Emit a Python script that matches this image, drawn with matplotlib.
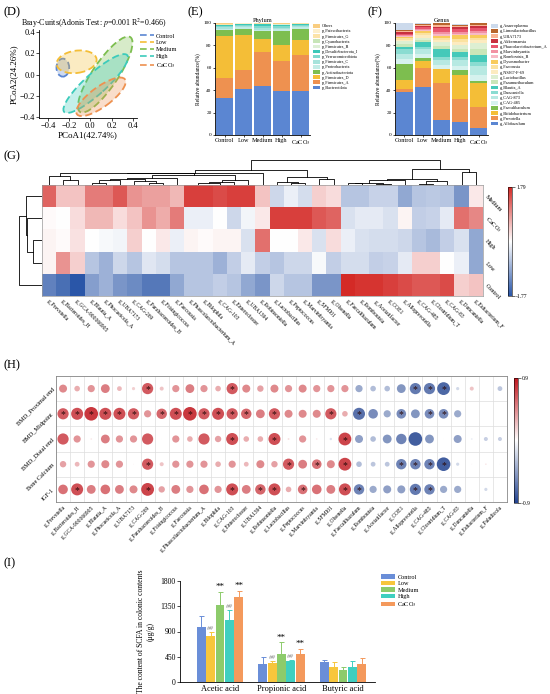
import numpy as np
import matplotlib
matplotlib.use("Agg")
import matplotlib.pyplot as plt
from matplotlib.patches import Ellipse, Patch
from matplotlib.lines import Line2D
from matplotlib.colors import LinearSegmentedColormap

plt.rcParams['font.family'] = ['Liberation Serif', 'DejaVu Serif']
plt.rcParams['mathtext.fontset'] = 'stix'
plt.rcParams['axes.linewidth'] = 0.6
plt.rcParams['xtick.major.width'] = 0.5
plt.rcParams['ytick.major.width'] = 0.5
plt.rcParams['xtick.major.size'] = 2
plt.rcParams['ytick.major.size'] = 2

# ---------------- data ----------------
groups = ['Control', 'Low', 'Medium', 'High', 'CaCO$_3$']

# (D) PCoA confidence ellipses per group
ell_cx = [-0.26, -0.13, 0.14, 0.05, 0.10]
ell_cy = [0.065, 0.12, 0.0, -0.085, -0.21]
ell_len = [0.12, 0.38, 0.85, 0.80, 0.56]
ell_wid = [0.17, 0.21, 0.24, 0.20, 0.19]
ell_ang = [0, 8, 56, 42, 36]

# (E) phylum relative abundance, bottom to top
phyla = ['p_Bacteroidota', 'p_Firmicutes_A', 'p_Firmicutes_D', 'p_Actinobacteriota',
         'p_Proteobacteria', 'p_Firmicutes_C', 'p_Verrucomicrobiota', 'p_Desulfobacterota_I',
         'p_Firmicutes_B', 'p_Cyanobacteria', 'p_Firmicutes_G', 'p_Patescibacteria', 'Others']
phylum_control = [33, 18, 37, 6, 1.0, 1.0, 1.5, 0.5, 0.3, 0.2, 0.2, 0.1, 1.2]
phylum_low = [41.5, 16.5, 31, 6, 1.0, 1.0, 1.5, 0.5, 0.2, 0.2, 0.1, 0.1, 0.4]
phylum_medium = [43.5, 30.5, 11.5, 7, 1.5, 1.5, 1.5, 2.0, 0.3, 0.2, 0.2, 0.1, 0.2]
phylum_high = [39.5, 26.5, 14, 13, 1.5, 1.0, 2.0, 1.0, 0.3, 0.2, 0.3, 0.2, 0.5]
phylum_caco3 = [39, 32.5, 13, 10.5, 1.0, 1.0, 1.5, 0.5, 0.3, 0.2, 0.1, 0.1, 0.3]

# (F) genus relative abundance, bottom to top
genera = ['g_Allobaculum', 'g_Prevotella', 'g_Bifidobacterium', 'g_Faecalibaculum',
          'g_CAG-485', 'g_CAG-873', 'g_Duncaniella', 'g_Blautia_A', 'g_Paramuribaculum',
          'g_Lactobacillus', 'g_NSJ67-F-69', 'g_Faecousia', 'g_Dysosmobacter', 'g_Romboutsia_B',
          'g_Marvinbryantia', 'g_Phascolarctobacterium_A', 'g_Akkermansia', 'g_UBA7173',
          'g_Limosilactobacillus', 'g_Anaeroplasma']
genus_control = [38.5, 3, 7.5, 14.5, 4, 5, 4, 2, 3, 2, 1.5, 1.5, 1, 1, 0.5, 1.5, 1.5, 1, 1, 6]
genus_low = [43, 17, 6.5, 2, 4, 4.5, 2, 4, 2, 2, 2, 2, 1.5, 1, 1, 1.5, 1.5, 1, 1, 0.5]
genus_medium = [13.5, 33, 12, 0.3, 4, 4, 3, 7, 3, 3, 2, 2, 2, 1.5, 2, 3, 1.5, 1.5, 1.5, 0.2]
genus_high = [12, 20, 22, 4, 4, 5, 3, 4, 3, 3, 3, 3, 3, 1.5, 1.5, 3, 1.5, 1, 1, 1]
genus_caco3 = [6, 19, 21, 2, 6, 8, 3, 6, 6, 5, 3, 2, 2, 2, 2, 2.5, 1.5, 1.5, 1.5, 0.5]

# (G) z-score heatmap
heat_genera = ['g_Prevotella', 'g_Bacteroides_H', 'g_GCA-900066905', 'g_Blautia_A',
               'g_Phocaeicola_A', 'g_UBA7173', 'g_CAG-269', 'g_Parabacteroides_B',
               'g_Frisingicoccus', 'g_Faecousia', 'g_Phascolarctobacterium_A', 'g_Bilophila',
               'g_CAG-103', 'g_Enterocloster', 'g_UBA1394', 'g_Robinsoniella', 'g_Lactobacillus',
               'g_Peptococcus', 'g_Marvinbryantia', 'g_SFMI01', 'g_Olsenella', 'g_Faecalibaculum',
               'g_Romboutsia', 'g_Acetatifactor', 'g_COE1', 'g_Alloprevotella', 'g_CAG-485',
               'g_Clostridium_T', 'g_CAG-83', 'g_Duncaniella', 'g_Eubacterium_F']
heat_rows = ['Medium', 'CaCO$_3$', 'High', 'Low', 'Control']
heat_medium = [1.3, 0.5, 0.5, 1.1, 1.1, 1.4, 0.9, 0.8, 0.8, 0.6, 1.6, 1.6, 1.5, 1.6, 1.6, 0.5,
               -0.4, -0.15, -0.35, 0.4, 0.3, -0.6, -0.6, -0.45, -0.45, -0.9, -0.6, -0.55, -0.6, -1.1, 0.2]
heat_caco3 = [0.05, 0.0, 0.3, 0.6, 0.6, 0.3, 0.5, 0.9, 0.7, 1.1, -0.15, -0.15, 0.0, -0.4, -0.1, 0.2,
              1.6, 1.6, 1.6, 1.4, 1.3, -0.3, -0.2, -0.2, -0.3, 0.1, -0.5, -0.45, -0.2, 1.2, 1.0]
heat_high = [0.1, 0.05, 0.25, 0.0, -0.05, -0.1, 0.4, 0.0, 0.2, -0.15, 0.1, 0.05, 0.1, 0.1, -0.3, 1.2,
             0.0, 0.0, 0.2, -0.3, 0.3, -0.15, -0.3, -0.35, -0.35, -0.4, -0.6, -0.7, -0.5, -0.3, -0.9]
heat_low = [0.1, 0.9, 0.4, -0.6, -0.8, -0.4, -0.6, -0.25, -0.35, -0.6, -0.6, -0.6, -0.8, -0.5, -0.2, -0.5,
            -0.6, -0.4, -0.4, -0.05, -0.5, -0.35, -0.35, -0.5, -0.45, -0.2, 0.4, 0.4, 0.0, -0.15, -0.9]
heat_control = [-1.3, -1.5, -1.77, -1.0, -0.8, -1.1, -1.2, -1.4, -1.4, -0.9, -0.6, -0.6, -0.5, -0.6, -0.9, -1.1,
                -0.4, -0.6, -0.6, -1.1, -1.1, 1.79, 1.7, 1.7, 1.6, 1.5, 1.4, 1.4, 1.5, 0.4, 0.5]

# (H) correlation with bone indices
corr_genera = heat_genera + ['g_Paludicola']
corr_rows = ['BMD_Proximal end', 'BMD_Midpoint', 'BMD_Distal end', 'Bone Calcium', 'IGF-1']
r_prox = [0.5, 0.35, 0.45, 0.55, 0.3, 0.2, 0.7, 0.25, 0.45, 0.55, 0.45, 0.35, 0.7, 0.5, 0.4, 0.5,
          0.45, 0.5, 0.45, 0.45, 0.45, -0.45, -0.35, -0.35, -0.55, -0.7, -0.7, -0.8, -0.2, 0.25, 0.0, -0.3]
r_mid = [0.7, 0.75, 0.85, 0.75, 0.75, 0.7, 0.45, 0.65, 0.75, 0.85, 0.7, 0.75, 0.7, 0.65, 0.55, 0.7,
         0.5, 0.5, 0.5, 0.7, 0.35, -0.75, -0.6, -0.45, -0.6, -0.55, -0.6, -0.6, -0.45, 0.0, 0.0, 0.0]
r_dist = [0.7, 0.45, 0.1, 0.55, 0.45, 0.45, 0.7, 0.02, 0.45, 0.35, 0.7, 0.4, 0.75, 0.35, 0.35, 0.75,
          0.12, 0.45, 0.1, -0.15, 0.8, -0.5, -0.35, -0.55, -0.65, -0.85, -0.55, -0.02, -0.5, -0.1, -0.25, -0.25]
r_bone = [0.4, 0.3, 0.45, 0.5, 0.45, 0.05, 0.7, 0.25, 0.45, 0.45, 0.45, 0.35, 0.45, 0.3, 0.5, 0.4,
          0.7, 0.55, 0.6, 0.5, 0.8, -0.35, -0.3, -0.3, -0.65, -0.65, -0.65, -0.85, -0.2, 0.05, 0.1, 0.05]
r_igf = [0.6, 0.75, 0.55, 0.6, 0.55, 0.5, 0.8, 0.4, 0.55, 0.45, 0.6, 0.45, 0.75, 0.55, 0.65, 0.75,
         0.35, 0.6, 0.6, 0.55, 0.75, -0.65, -0.45, -0.5, -0.5, -0.7, -0.65, -0.45, -0.45, 0.02, -0.2, 0.0]
# significant cells (1-based column numbers)
sig_prox = [7, 13, 26, 27, 28]
sig_mid = [1, 2, 3, 4, 5, 6, 8, 9, 10, 11, 12, 13, 14, 16, 20, 22, 25, 27, 28]
sig_dist = [13, 16, 21]
sig_bone = [7, 17, 19, 21, 25, 26, 27, 28]
sig_igf = [2, 7, 13, 15, 16, 18, 21, 22, 26, 27]

# (I) SCFA content (ug/g), mean and SD per group
acids = ['Acetic acid', 'Propionic acid', 'Butyric acid']
scfa_mean = {'Control': [975, 320, 365], 'Low': [825, 345, 265], 'Medium': [1370, 500, 215],
             'High': [1105, 370, 275], 'CaCO$_3$': [1520, 495, 315]}
scfa_sd = {'Control': [200, 125, 30], 'Low': [65, 35, 95], 'Medium': [230, 205, 55],
           'High': [175, 30, 95], 'CaCO$_3$': [105, 90, 120]}
scfa_marks = {'Control': ['', '', ''], 'Low': ['##', '##', ''], 'Medium': ['**', '**', ''],
              'High': ['##', '##', ''], 'CaCO$_3$': ['**', '**', '']}

# ---------------- styles ----------------
W, H = 550, 694
fig = plt.figure(figsize=(5.5, 6.94), dpi=100)


def box(l, t, r, b):
    return fig.add_axes([l / W, 1 - b / H, (r - l) / W, (b - t) / H])


def panel_label(x, y, s):
    fig.text(x / W, 1 - y / H, s, fontsize=9, va='center', ha='left')


def ordered_tree(data):
    # average-linkage clustering where only neighbours may merge, so leaf order is kept
    data = np.asarray(data, float)
    members = [[i] for i in range(len(data))]
    xpos = [float(i) for i in range(len(data))]
    hts = [0.0] * len(data)
    segs = []
    while len(members) > 1:
        dists = []
        for k in range(len(members) - 1):
            a = data[members[k]]
            b = data[members[k + 1]]
            dists.append(np.sqrt(((a[:, None, :] - b[None, :, :]) ** 2).sum(-1)).mean())
        k = int(np.argmin(dists))
        h = max(dists[k], hts[k], hts[k + 1])
        segs.append(([xpos[k], xpos[k], xpos[k + 1], xpos[k + 1]], [hts[k], h, h, hts[k + 1]]))
        members[k] = members[k] + members.pop(k + 1)
        xpos[k] = (xpos[k] + xpos.pop(k + 1)) / 2
        hts[k] = h
        hts.pop(k + 1)
    return segs, hts[0]


grp_colors = ['#5B86D2', '#F4BE37', '#7DBE4F', '#3CCBBB', '#EE9150']

# ---------------- (D) ----------------
panel_label(3, 12, '(D)')
ax = box(39, 30, 137, 118)
for i, g in enumerate(groups):
    ax.add_patch(Ellipse((ell_cx[i], ell_cy[i]), ell_len[i], ell_wid[i], angle=ell_ang[i],
                         facecolor=grp_colors[i], alpha=0.3, edgecolor='none'))
    ax.add_patch(Ellipse((ell_cx[i], ell_cy[i]), ell_len[i], ell_wid[i], angle=ell_ang[i],
                         facecolor='none', edgecolor=grp_colors[i], lw=1.3, ls=(0, (4, 2))))
ax.set_xlim(-0.485, 0.44)
ax.set_ylim(-0.41, 0.42)
ax.set_xticks([-0.4, -0.2, 0.0, 0.2, 0.4])
ax.set_yticks([-0.4, -0.2, 0.0, 0.2, 0.4])
ax.tick_params(labelsize=6, pad=1)
for s in ['top', 'right']:
    ax.spines[s].set_visible(False)
ax.set_xlabel('PCoA1(42.74%)', fontsize=6.5, labelpad=1)
ax.set_ylabel('PCoA2(24.26%)', fontsize=6.5, labelpad=1)
fig.text(94 / W, 1 - 23 / H, 'Bray-Curits(Adonis Test: $p$=0.001 R$^2$=0.466)', fontsize=5.7,
         ha='center', va='center')
handles = [Line2D([], [], color=c, lw=1.2, ls=(0, (4, 2))) for c in grp_colors]
ax.legend(handles, groups, loc='upper left', bbox_to_anchor=(137 / W, 1 - 30 / H),
          bbox_transform=fig.transFigure, frameon=False, fontsize=4.5, handlelength=2.2,
          labelspacing=0.25, borderpad=0, handletextpad=0.3)


# ---------------- (E) and (F) stacked bars ----------------
def stacked(ax, table, names, colors, title, leg_top):
    x = np.arange(len(groups))
    bottom = np.zeros(len(groups))
    vals = np.array(table, float)
    bars = []
    for j, name in enumerate(names):
        b = ax.bar(x, vals[:, j], bottom=bottom, width=0.9, color=colors[j], edgecolor='none')
        bottom += vals[:, j]
        bars.append(b)
    ax.set_xlim(-0.5, 4.5)
    ax.set_ylim(0, 100)
    ax.set_yticks([0, 20, 40, 60, 80, 100])
    ax.set_xticks(x)
    ax.set_xticklabels(groups, fontsize=4.5)
    ax.tick_params(axis='y', labelsize=3.8, pad=1, length=1.5)
    ax.tick_params(axis='x', pad=1, length=1.5)
    for s in ['top', 'right']:
        ax.spines[s].set_visible(False)
    ax.set_ylabel('Relative abundance(%)', fontsize=4, labelpad=2)
    ax.set_title(title, fontsize=4.5, pad=1)
    handles = [Patch(facecolor=colors[j]) for j in range(len(names))][::-1]
    ax.legend(handles, names[::-1], loc='upper left', bbox_to_anchor=(1.01, leg_top),
              frameon=False, fontsize=3.1, handlelength=1.6, handleheight=0.9,
              labelspacing=0.2, borderpad=0, handletextpad=0.5)


phylum_colors = ['#5B86D2', '#EE9150', '#F4BE37', '#7DBE4F', '#C2ECE6', '#A6E3DB', '#7FD9CE',
                 '#3CC8B8', '#DDEFD5', '#C7E5B7', '#FCE3A8', '#FDEFCB', '#F9CD80']
genus_colors = ['#5B86D2', '#EE9150', '#F4BE37', '#7DBE4F', '#D6F2EE', '#B7E9E2', '#8ADCD1',
                '#45C9B9', '#C9E6B8', '#DDEFD2', '#FCEBC0', '#FBE2A0', '#F8CB5C', '#F7BAC6',
                '#F291A3', '#E8566E', '#C8303F', '#F9B494', '#B8652D', '#CCDAEC']

panel_label(188, 12, '(E)')
ax = box(215, 23, 310, 135)
stacked(ax, [phylum_control, phylum_low, phylum_medium, phylum_high, phylum_caco3],
        phyla, phylum_colors, 'Phylum', 1.01)

panel_label(368, 12, '(F)')
ax = box(395, 23, 488, 135)
stacked(ax, [genus_control, genus_low, genus_medium, genus_high, genus_caco3],
        genera, genus_colors, 'Genus', 1.01)

# ---------------- (G) heatmap ----------------
panel_label(3, 156, '(G)')
heat = np.array([heat_medium, heat_caco3, heat_high, heat_low, heat_control])
cmap_g = LinearSegmentedColormap.from_list('g', ['#2A56A8', '#FFFFFF', '#D42A26'])
ax = box(42, 185, 483, 296)
im = ax.imshow(heat, aspect='auto', cmap=cmap_g, vmin=-1.77, vmax=1.79, interpolation='nearest')
ax.set_xticks(np.arange(len(heat_genera)))
ax.set_xticklabels(heat_genera, rotation=-45, ha='left', va='top', rotation_mode='anchor', fontsize=4)
ax.set_yticks(np.arange(len(heat_rows)))
ax.yaxis.tick_right()
ax.set_yticklabels(heat_rows, rotation=-45, ha='left', va='center', rotation_mode='anchor', fontsize=4.5)
ax.tick_params(length=0, pad=2)
for s in ax.spines.values():
    s.set_color('#999999')
    s.set_linewidth(0.5)

axt = box(42, 160, 483, 185)
segs, top = ordered_tree(heat.T)
for xs, ys in segs:
    axt.plot(xs, ys, color='black', lw=0.6)
axt.set_xlim(-0.5, len(heat_genera) - 0.5)
axt.set_ylim(0, top * 1.02)
axt.axis('off')

axl = box(18, 185, 42, 296)
segs, top = ordered_tree(heat)
for ys, xs in segs:
    axl.plot(xs, ys, color='black', lw=0.6)
axl.set_ylim(len(heat_rows) - 0.5, -0.5)
axl.set_xlim(top * 1.03, 0)
axl.axis('off')

cax = box(508, 187, 512, 296)
cb = fig.colorbar(im, cax=cax, ticks=[-1.77, 1.79])
cb.ax.set_yticklabels(['-1.77', '1.79'], fontsize=4)
cb.ax.tick_params(length=2, width=0.4, pad=1)
cb.outline.set_linewidth(0.4)

# ---------------- (H) correlation dot plot ----------------
panel_label(3, 365, '(H)')
corr = np.array([r_prox, r_mid, r_dist, r_bone, r_igf])
sigs = [sig_prox, sig_mid, sig_dist, sig_bone, sig_igf]
cmap_h = LinearSegmentedColormap.from_list('h', ['#21428F', '#FFFFFF', '#C0151D'])
ax = box(56, 376, 507, 502)
ys, xs = np.nonzero(np.abs(corr) > 0.01)
vals = corr[ys, xs]
sizes = (16 * np.abs(vals) * 0.72) ** 2
sc = ax.scatter(xs, ys, s=sizes, c=vals, cmap=cmap_h, vmin=-0.9, vmax=0.9, alpha=0.9,
                edgecolors='none', zorder=3)
for i, cols in enumerate(sigs):
    for c in cols:
        ax.text(c - 1, i + 0.05, '*', fontsize=7, color='#2B0A0A', ha='center', va='center', zorder=4)
ax.set_xlim(-0.5, len(corr_genera) - 0.5)
ax.set_ylim(len(corr_rows) - 0.5, -0.5)
ax.set_xticks(np.arange(len(corr_genera)))
ax.set_xticklabels(corr_genera, rotation=45, ha='right', va='top', rotation_mode='anchor', fontsize=4)
ax.set_yticks(np.arange(len(corr_rows)))
ax.set_yticklabels(corr_rows, rotation=45, ha='right', va='center', rotation_mode='anchor', fontsize=4.5)
ax.set_xticks(np.arange(len(corr_genera) + 1) - 0.5, minor=True)
ax.set_yticks(np.arange(len(corr_rows) + 1) - 0.5, minor=True)
ax.grid(which='minor', color='#DDDDDD', lw=0.5)
ax.tick_params(which='both', length=0, pad=2)
for s in ax.spines.values():
    s.set_color('#888888')
    s.set_linewidth(0.6)

cax = box(514, 378, 518, 503)
cb = fig.colorbar(sc, cax=cax, ticks=[-0.9, 0.9])
cb.solids.set_alpha(1)
cb.ax.set_yticklabels(['-0.9', '0.9'], fontsize=4)
cb.ax.tick_params(length=2, width=0.4, pad=1)
cb.outline.set_linewidth(0.4)

# ---------------- (I) SCFA bars ----------------
panel_label(3, 563, '(I)')
bar_colors = ['#6A8ED8', '#F7C63C', '#8DCB6B', '#3FCFC0', '#F4995C']
ax = box(180, 581, 375, 682)
x = np.arange(len(acids))
for k, g in enumerate(groups):
    pos = x + (k - 2) * 0.152
    m = np.array(scfa_mean[g])
    sd = np.array(scfa_sd[g])
    ax.bar(pos, m, width=0.142, color=bar_colors[k], label=g,
           yerr=[np.zeros_like(sd), sd],
           error_kw=dict(ecolor=bar_colors[k], elinewidth=0.7, capsize=1.8, capthick=0.7))
    for j, mk in enumerate(scfa_marks[g]):
        if mk == '**':
            ax.text(pos[j], m[j] + sd[j] + 15, mk, fontsize=6.5, ha='center', va='bottom')
        elif mk == '##':
            ax.text(pos[j], m[j] + sd[j] + 15, mk, fontsize=5, ha='center', va='bottom',
                    color='#8A8A8A', style='italic')
ax.set_xlim(-0.65, 2.52)
ax.set_ylim(0, 1800)
ax.set_yticks([0, 450, 900, 1350, 1800])
ax.set_xticks(x)
ax.set_xticklabels(acids, fontsize=6)
ax.tick_params(axis='y', labelsize=5.5, pad=1)
ax.tick_params(axis='x', length=0, pad=2)
for s in ['top', 'right']:
    ax.spines[s].set_visible(False)
ax.set_ylabel('The content of SCFA in colonic contents\n(\u03bcg/g)', fontsize=5.5, labelpad=4,
              linespacing=1.3)
ax.legend(loc='upper left', bbox_to_anchor=(378 / W, 1 - 571 / H), bbox_transform=fig.transFigure,
          frameon=False, fontsize=4.5, handlelength=2.2, handleheight=0.8, labelspacing=0.15,
          borderpad=0, handletextpad=0.4)

fig.savefig('out.png', dpi=100)
